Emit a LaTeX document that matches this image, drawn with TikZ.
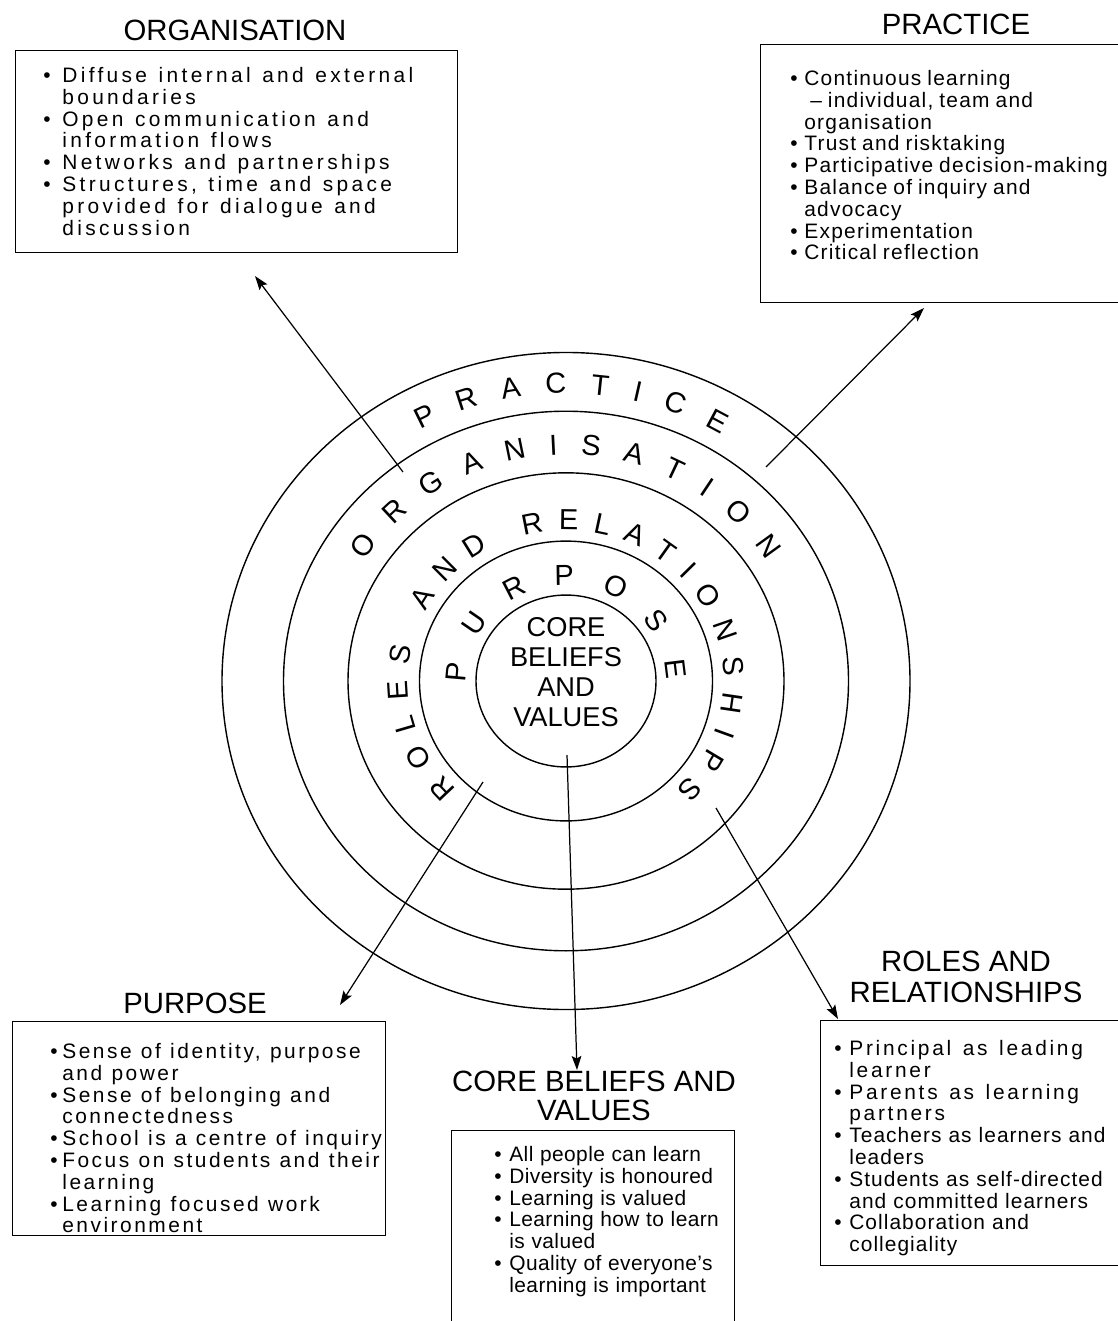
\documentclass[tikz,border=0pt]{standalone}
\usepackage{fontspec}
\setmainfont{Liberation Sans}
\usetikzlibrary{arrows.meta,decorations.text}

\newcommand\bl[1][0.3cm]{\makebox[#1][l]{\textbullet}}
\newcommand\ct[1][0.3cm]{\hspace*{#1}}
\newcommand\ringfont{\fontsize{16.5}{16.5}\selectfont}
\newcommand\widen{\addfontfeatures{LetterSpace=13}\spaceskip=6.6pt plus 2pt minus 1pt\relax}

\begin{document}
\begin{tikzpicture}[x=0.02cm, y=0.02cm,
  ring/.style={line width=0.8pt},
  pointer/.style={line width=0.7pt, -{Stealth[length=8pt,width=5.5pt,inset=1.5pt]}},
  listframe/.style={line width=0.5pt},
  heading/.style={font=\fontsize{16.7}{17.6}\selectfont, align=center, inner sep=0pt},
  listtext/.style 2 args={font=\fontsize{11.9}{12.4}\selectfont\addfontfeatures{LetterSpace=#1},
    execute at begin node={\spaceskip=#2 plus 2pt minus 1pt\relax},
    align=left, text width=9cm, inner sep=0pt, anchor=north west},
  ringtext/.style={decorate, decoration={text along path,
    text={|\ringfont|#1}, text align=fit to path}}]
  \useasboundingbox (0,0) rectangle (1118,-1321);

  % rings
  \coordinate (hub) at (566,-681);
  \foreach \r in {90,146.5,218,282.5,344}
    \draw [ring] (hub) ellipse [x radius=\r, y radius=0.955*\r];
  \path [ringtext=PRACTICE]
    (hub) ++(119:301 and 287.5) arc [start angle=119, end angle=59, x radius=301, y radius=287.5];
  \path [ringtext=ORGANISATION]
    (hub) ++(148:237 and 226.3) arc [start angle=148, end angle=32, x radius=237, y radius=226.3];
  \path [ringtext=ROLES AND RELATIONSHIPS]
    (hub) ++(226:158 and 150.9) arc [start angle=226, end angle=-46, x radius=158, y radius=150.9];
  \path [ringtext=PURPOSE]
    (hub) ++(181:100 and 95.5) arc [start angle=181, end angle=1, x radius=100, y radius=95.5];
  \node [font=\fontsize{15.5}{17}\selectfont, align=center] (core) at (566,-672)
    {CORE\\BELIEFS\\AND\\VALUES};

  % headings
  \node [heading] (orghead)  at (235,-30)   {ORGANISATION};
  \node [heading] (prachead) at (956,-24)   {PRACTICE};
  \node [heading] (purphead) at (195,-1003) {PURPOSE};
  \node [heading, font=\fontsize{16.7}{16.4}\selectfont] (corehead) at (594,-1096)
    {CORE BELIEFS AND\\VALUES};
  \node [heading] (rolehead) at (966,-977)  {ROLES AND\\RELATIONSHIPS};

  % boxes
  \draw [listframe] (15,-50) rectangle (457,-252);
  \node [listtext={16}{6.6pt}] (orglist) at (43,-67) {%
    \bl[0.38cm]Diffuse internal and external\\
    \ct[0.38cm]boundaries\\
    \bl[0.38cm]Open communication and\\
    \ct[0.38cm]information flows\\
    \bl[0.38cm]Networks and partnerships\\
    \bl[0.38cm]Structures, time and space\\
    \ct[0.38cm]provided for dialogue and\\
    \ct[0.38cm]discussion};

  \draw [listframe] (760,-44) rectangle (1130,-302);
  \node [listtext={6}{3.4pt}] (praclist) at (790,-70) {%
    \bl[0.28cm]Continuous learning\\
    \ct[0.4cm]-- individual, team and\\
    \ct[0.28cm]organisation\\
    \bl[0.28cm]Trust and risktaking\\
    \bl[0.28cm]Participative decision-making\\
    \bl[0.28cm]Balance of inquiry and\\
    \ct[0.28cm]advocacy\\
    \bl[0.28cm]Experimentation\\
    \bl[0.28cm]Critical reflection};

  \draw [listframe] (12,-1021) rectangle (385,-1235);
  \node [listtext={12}{5.3pt}] (purplist) at (50,-1043) {%
    \bl[0.24cm]Sense of identity, purpose\\
    \ct[0.24cm]and power\\
    \bl[0.24cm]Sense of belonging and\\
    \ct[0.24cm]connectedness\\
    \bl[0.24cm]School is a centre of inquiry\\
    \bl[0.24cm]Focus on students and their\\
    \ct[0.24cm]learning\\
    \bl[0.24cm]Learning focused work\\
    \ct[0.24cm]environment};

  \draw [listframe] (451,-1130) rectangle (734,-1340);
  \node [listtext={2}{3.8pt}] (corelist) at (494,-1146) {%
    \bl[0.3cm]All people can learn\\
    \bl[0.3cm]Diversity is honoured\\
    \bl[0.3cm]Learning is valued\\
    \bl[0.3cm]Learning how to learn\\
    \ct[0.3cm]is valued\\
    \bl[0.3cm]Quality of everyone's\\
    \ct[0.3cm]learning is important};

  \draw [listframe] (820,-1020) rectangle (1130,-1265);
  \node [listtext={5}{4pt}] (rolelist) at (834,-1040) {%
    {\widen\bl Principal as leading}\\
    {\widen\ct learner}\\
    {\widen\bl Parents as learning}\\
    {\widen\ct partners}\\
    \bl Teachers as learners and\\
    \ct leaders\\
    \bl Students as self-directed\\
    \ct and committed learners\\
    \bl Collaboration and\\
    \ct collegiality};

  % pointers
  \coordinate (orgfrom)  at (403,-472);
  \coordinate (orgto)    at (255,-276);
  \coordinate (pracfrom) at (766,-467);
  \coordinate (practo)   at (924,-308);
  \coordinate (purpfrom) at (483,-782);
  \coordinate (purpto)   at (340,-1005);
  \coordinate (corefrom) at (567,-755);
  \coordinate (coreto)   at (577,-1070);
  \coordinate (rolefrom) at (716,-808);
  \coordinate (roleto)   at (838,-1019);
  \draw [pointer] (orgfrom) -- (orgto);
  \draw [pointer] (pracfrom) -- (practo);
  \draw [pointer] (purpfrom) -- (purpto);
  \draw [pointer] (corefrom) -- (coreto);
  \draw [pointer] (rolefrom) -- (roleto);
\end{tikzpicture}
\end{document}
